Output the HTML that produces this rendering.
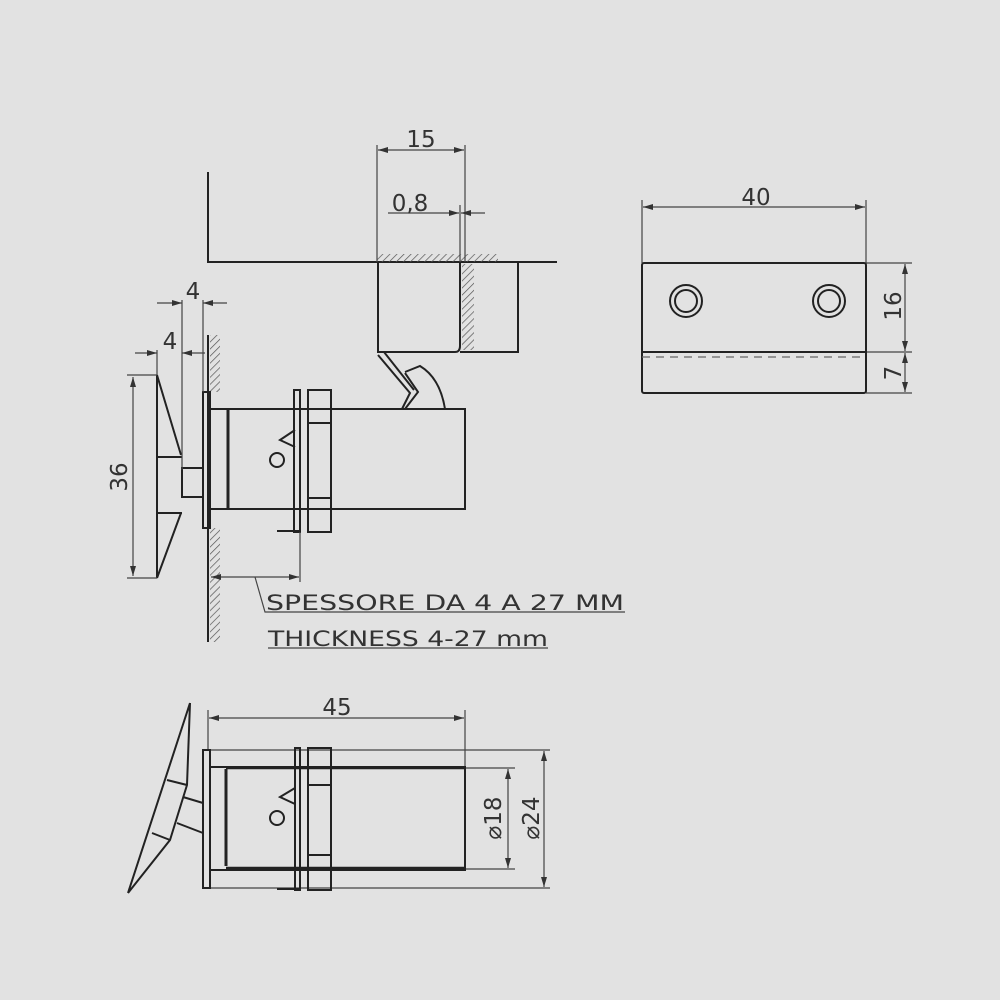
<!DOCTYPE html>
<html><head><meta charset="utf-8"><style>
html,body{margin:0;padding:0;background:#e2e2e2;}
svg{display:block}
text{font-family:"DejaVu Sans","Liberation Sans",sans-serif;fill:#333;}
</style></head><body>
<svg width="1000" height="1000" viewBox="0 0 1000 1000" xmlns="http://www.w3.org/2000/svg">
<defs>
<pattern id="h" width="5" height="5" patternUnits="userSpaceOnUse" patternTransform="rotate(45)">
<line x1="0" y1="0" x2="0" y2="5" stroke="#555" stroke-width="1.4"/></pattern>
<marker id="a" viewBox="0 0 10 6" refX="10" refY="3" markerWidth="10" markerHeight="6" orient="auto-start-reverse" markerUnits="userSpaceOnUse">
<path d="M0,0 L10,3 L0,6z" fill="#333"/></marker>
</defs>
<rect width="1000" height="1000" fill="#e2e2e2"/>
<g stroke="#222" fill="none" stroke-width="2">
<path d="M208 172 V262 H557"/>
<rect x="377" y="254" width="121" height="8" fill="url(#h)" stroke="none"/>
<rect x="462" y="264" width="12" height="86" fill="url(#h)" stroke="none"/>
<path d="M378 262 V352 H455 Q460 352 460 346 V262"/>
<path d="M460 352 H518 V262"/>
<path d="M378 355 L410 393 L402 409"/>
<path d="M384 352 L414 390"/>
<path d="M405 372 L420 366 Q440 378 445 409"/>
<path d="M405 373 L418 392 L405 409"/>
<path d="M208 335 V642"/>
<rect x="210" y="335" width="10" height="57" fill="url(#h)" stroke="none"/>
<rect x="210" y="528" width="10" height="114" fill="url(#h)" stroke="none"/>
<rect x="203" y="392" width="7" height="136"/>
<path d="M210 409 H465 V509 H210"/>
<path d="M228 409 V509" stroke-width="3"/>
<rect x="294" y="390" width="6" height="142"/>
<path d="M277 531 H300"/>
<rect x="308" y="390" width="23" height="142"/>
<path d="M308 423 H331 M308 498 H331"/>
<path d="M295 430 L280 440 L295 447"/>
<circle cx="277" cy="460" r="7"/>
<path d="M157 375 V578 M157 375 L181 455 M157 578 L181 513 M157 457 H182 M157 513 H182"/>
<rect x="182" y="468" width="21" height="29"/>
</g>
<g stroke="#444" fill="none" stroke-width="1.2">
<path d="M127 375 H157 M127 578 H157"/>
<path d="M133 377 V576" marker-start="url(#a)" marker-end="url(#a)"/>
<path d="M157 303 H182" marker-end="url(#a)"/><path d="M227 303 H203" marker-end="url(#a)"/>
<path d="M182 300 V470 M203 300 V392 M157 350 V375"/>
<path d="M135 353 H157" marker-end="url(#a)"/><path d="M205 353 H182" marker-end="url(#a)"/>
<path d="M211 577 H299" marker-start="url(#a)" marker-end="url(#a)"/>
<path d="M300 532 V582"/>
<path d="M255 577 L265 612 H625 M268 648 H548"/>
<path d="M377 145 V262 M465 145 V262 M460 205 V262"/>
<path d="M378 150 H464" marker-start="url(#a)" marker-end="url(#a)"/>
<path d="M388 213 H459" marker-end="url(#a)"/><path d="M485 213 H461" marker-end="url(#a)"/>
<path d="M642 200 V263 M866 200 V263"/>
<path d="M643 207 H865" marker-start="url(#a)" marker-end="url(#a)"/>
<path d="M866 263 H912 M866 352 H912 M866 393 H912"/>
<path d="M905 264 V351" marker-start="url(#a)" marker-end="url(#a)"/>
<path d="M905 353 V392" marker-start="url(#a)" marker-end="url(#a)"/>
<path d="M208 710 V750 M465 710 V768"/>
<path d="M209 718 H464" marker-start="url(#a)" marker-end="url(#a)"/>
<path d="M210 750 H550 M210 888 H550 M465 768 H515 M465 869 H515"/>
<path d="M508 769 V868" marker-start="url(#a)" marker-end="url(#a)"/>
<path d="M544 751 V887" marker-start="url(#a)" marker-end="url(#a)"/>
</g>
<g stroke="#222" fill="none" stroke-width="2">
<rect x="642" y="263" width="224" height="130" rx="2"/>
<path d="M642 352 H866"/>
<path d="M642 357 H866" stroke-dasharray="8 6" stroke-width="1.3" stroke="#666"/>
<circle cx="686" cy="301" r="16"/><circle cx="686" cy="301" r="11"/>
<circle cx="829" cy="301" r="16"/><circle cx="829" cy="301" r="11"/>
<rect x="203" y="750" width="7" height="138"/>
<path d="M210 767 H465 V870 H210"/>
<path d="M226 769 V866" stroke-width="3"/>
<path d="M226 768 H465 M226 868 H465" stroke-width="2.5"/>
<rect x="295" y="748" width="5" height="142"/>
<path d="M277 889 H300"/>
<rect x="308" y="748" width="23" height="142"/>
<path d="M308 785 H331 M308 855 H331"/>
<path d="M295 788 L280 797 L295 804"/>
<circle cx="277" cy="818" r="7"/>
<path d="M190 703 L128 893 M190 703 L187 785 L170 840 L128 893 M167 780 L187 785 M152 833 L170 840 M183 797 L203 803 M177 823 L203 833"/>
</g>
<g font-size="23">
<text x="421" y="147" text-anchor="middle">15</text>
<text x="410" y="211" text-anchor="middle">0,8</text>
<text x="193" y="299" text-anchor="middle">4</text>
<text x="170" y="349" text-anchor="middle">4</text>
<text x="756" y="205" text-anchor="middle">40</text>
<text x="337" y="715" text-anchor="middle">45</text>
<text transform="translate(127,477) rotate(-90)" text-anchor="middle">36</text>
<text transform="translate(901,306) rotate(-90)" text-anchor="middle">16</text>
<text transform="translate(901,373) rotate(-90)" text-anchor="middle">7</text>
<text transform="translate(501,818) rotate(-90)" text-anchor="middle">⌀18</text>
<text transform="translate(539,818) rotate(-90)" text-anchor="middle">⌀24</text>
<text x="266" y="610" font-size="21" textLength="358" lengthAdjust="spacingAndGlyphs">SPESSORE DA 4 A 27 MM</text>
<text x="268" y="646" font-size="21" textLength="280" lengthAdjust="spacingAndGlyphs">THICKNESS 4-27 mm</text>
</g>
</svg>
</body></html>
